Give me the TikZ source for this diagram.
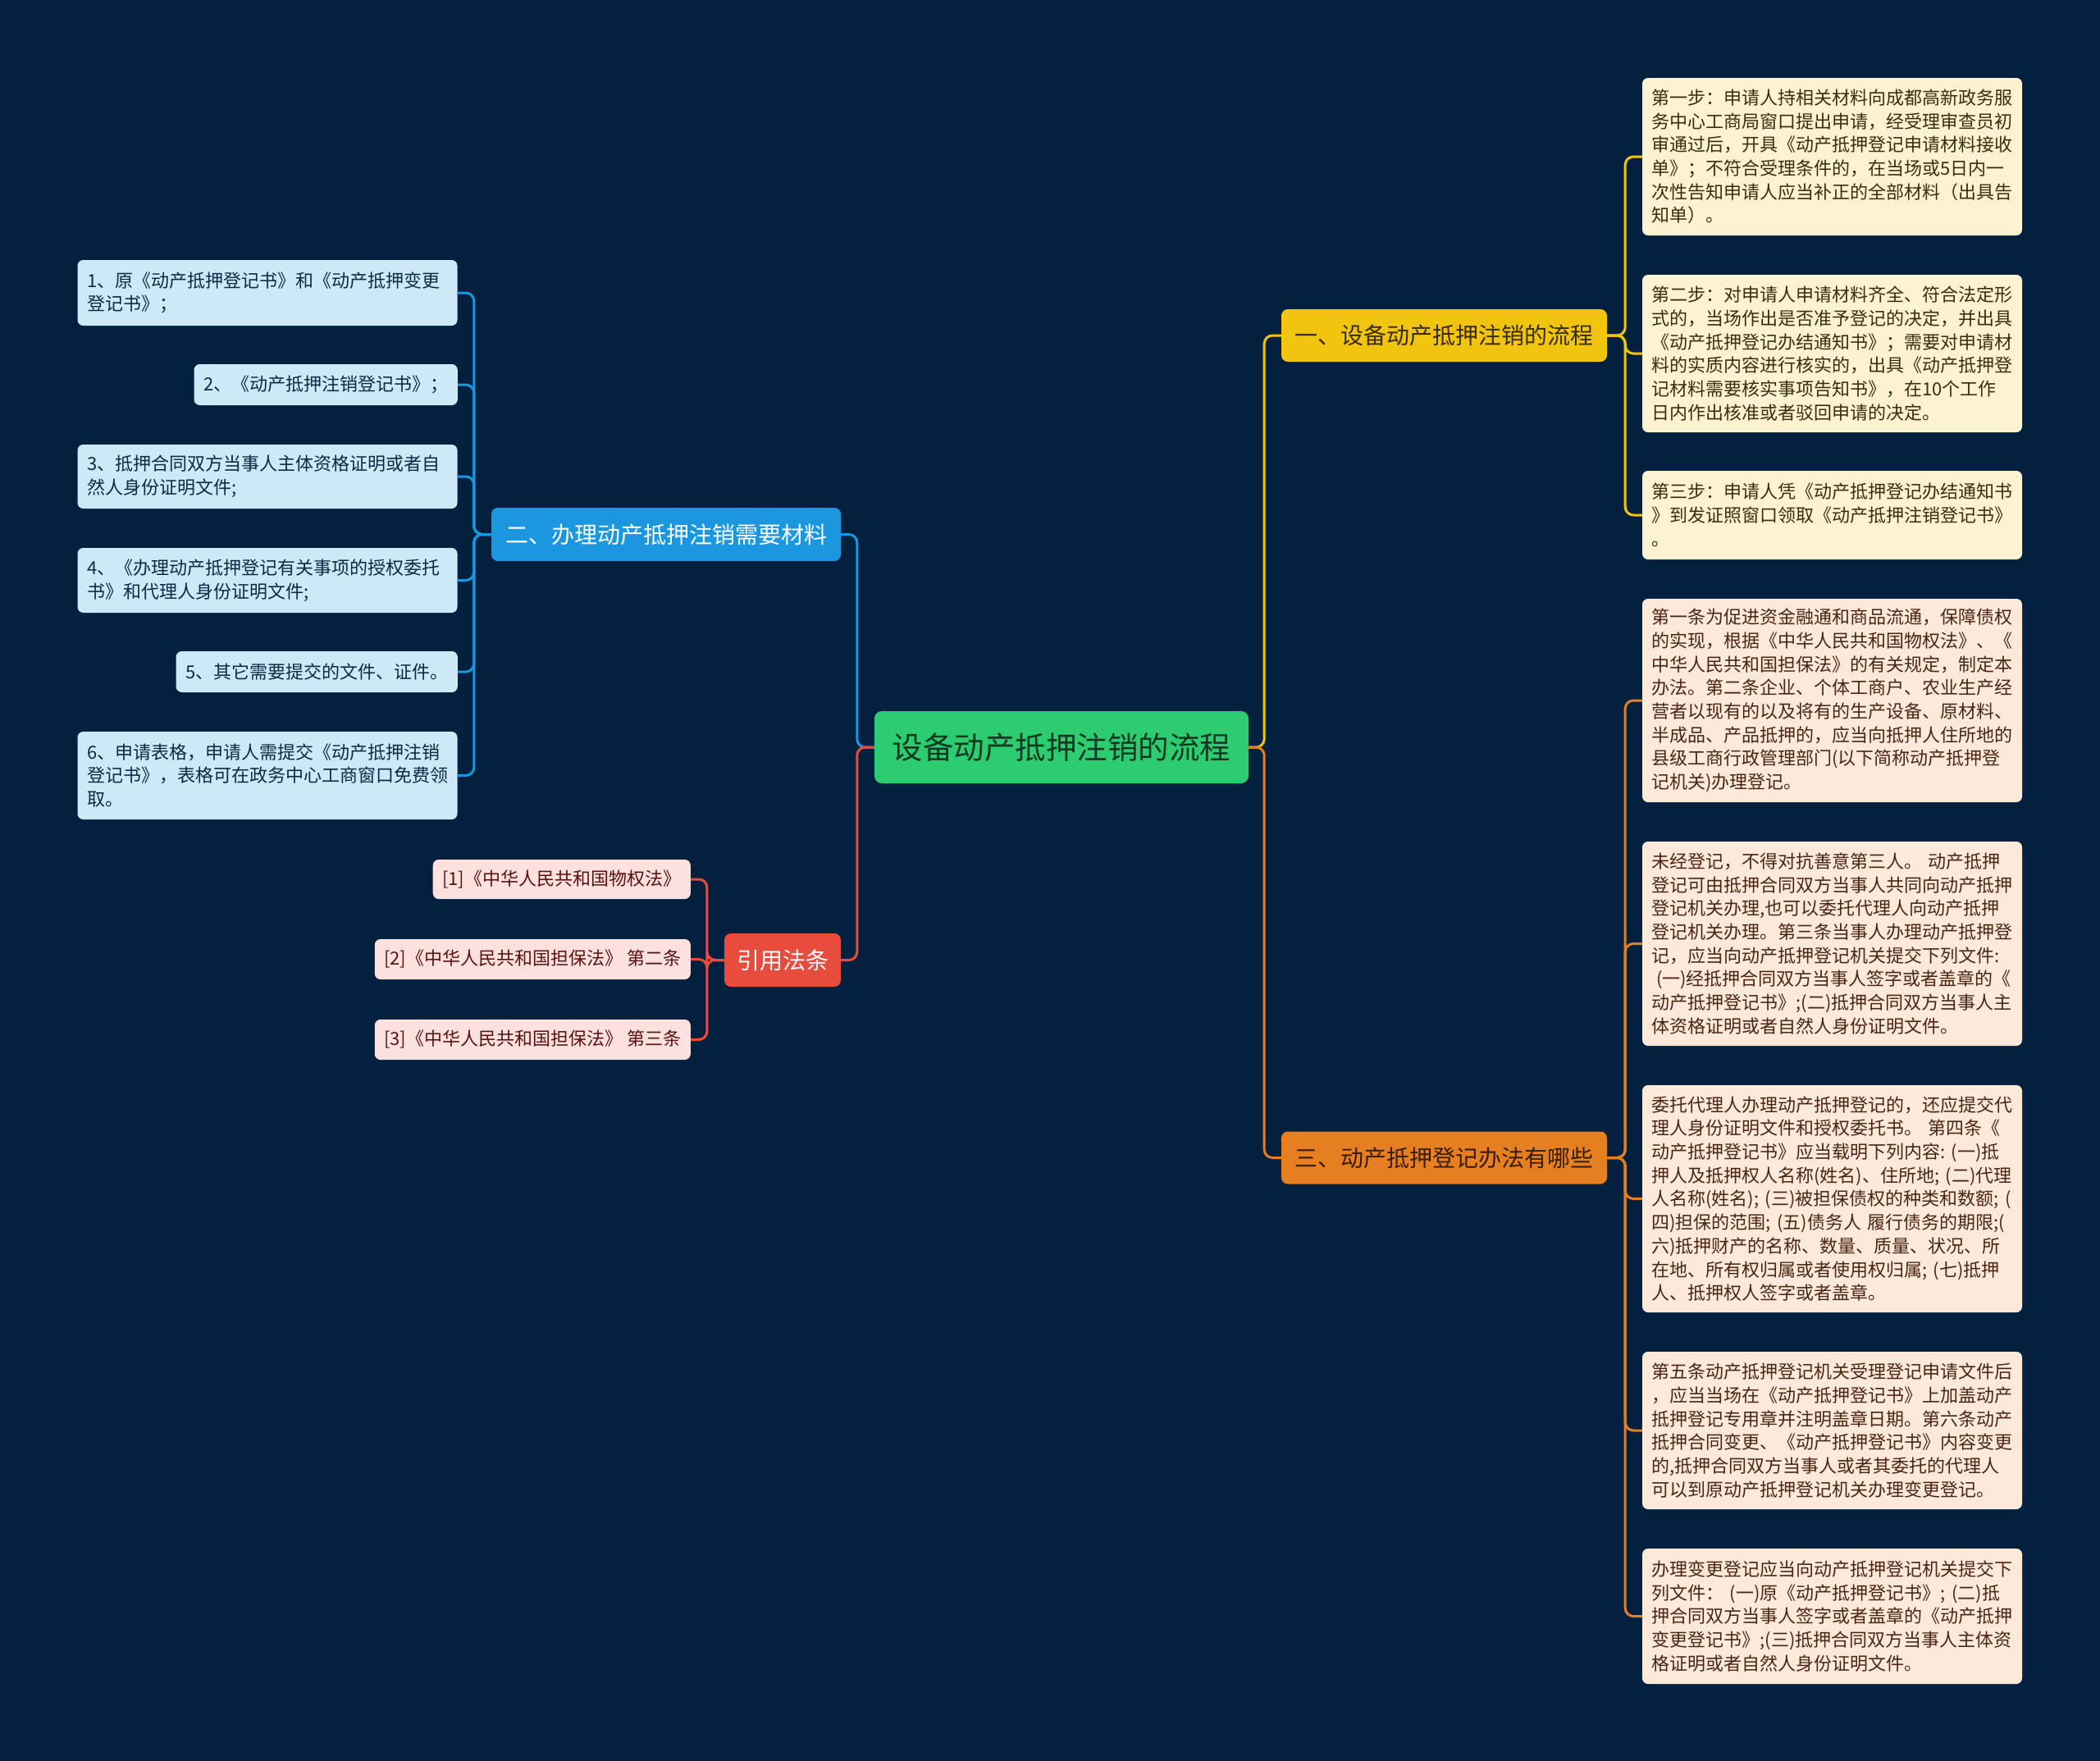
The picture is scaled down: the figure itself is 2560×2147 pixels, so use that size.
\documentclass[tikz,border=0pt]{standalone}
\usepackage{fontspec}
\setmainfont{Noto Sans CJK SC}
\definecolor{bg}{HTML}{03213F}
\definecolor{cgreen}{HTML}{2ECC71}
\definecolor{cgtext}{HTML}{0E3A22}
\definecolor{cyellow}{HTML}{F1C40F}
\definecolor{cytext}{HTML}{3A2C00}
\definecolor{corange}{HTML}{E67E22}
\definecolor{cotext}{HTML}{3A1D00}
\definecolor{cblue}{HTML}{1A97DF}
\definecolor{cred}{HTML}{E74C3C}
\definecolor{yfill}{HTML}{FDF3D3}
\definecolor{ytext}{HTML}{3B2F0A}
\definecolor{ofill}{HTML}{FCE9DA}
\definecolor{otext}{HTML}{4A2612}
\definecolor{bfill}{HTML}{CDE8F6}
\definecolor{btext}{HTML}{0B2A45}
\definecolor{rfill}{HTML}{FDE1DE}
\definecolor{rtext}{HTML}{5C1111}
\tikzset{
  leaf/.style={rounded corners=7pt, inner xsep=11.5pt, inner ysep=0pt, align=left,
    font=\fontsize{22}{28.7}\selectfont},
  wideleaf/.style={leaf, text width=440pt},
  yleaf/.style={wideleaf, fill=yfill, text=ytext},
  oleaf/.style={wideleaf, fill=ofill, text=otext},
  bleaf/.style={leaf, fill=bfill, text=btext},
  rleaf/.style={leaf, fill=rfill, text=rtext},
  branch/.style={rounded corners=8pt, inner sep=0pt, font=\fontsize{28}{34}\selectfont},
  conn/.style={line width=3pt, rounded corners=10pt},
}
\begin{document}
\begin{tikzpicture}[x=1pt,y=-1pt]
\fill[bg] (0,0) rectangle (2560,2147);
\useasboundingbox (0,0) rectangle (2560,2147);

% center
\node[rounded corners=9pt, fill=cgreen, text=cgtext, minimum width=456pt, minimum height=88pt,
  inner sep=0pt, font=\fontsize{37.5}{44}\selectfont] (root) at (1294,911) {设备动产抵押注销的流程};

% branches
\node[branch, fill=cyellow, text=cytext, minimum width=397pt, minimum height=64pt] (b1) at (1760.5,409) {一、设备动产抵押注销的流程};
\node[branch, fill=corange, text=cotext, minimum width=397pt, minimum height=64pt] (b3) at (1760.5,1411.5) {三、动产抵押登记办法有哪些};
\node[branch, fill=cblue, text=white, minimum width=426pt, minimum height=65pt] (b2) at (812,651.5) {二、办理动产抵押注销需要材料};
\node[branch, fill=cred, text=white, minimum width=142pt, minimum height=65pt] (b4) at (954,1170.5) {引用法条};

% right yellow leaves
\node[yleaf, minimum height=192pt] (y1) at (2233.5,191) {第一步：申请人持相关材料向成都高新政务服\\务中心工商局窗口提出申请，经受理审查员初\\审通过后，开具《动产抵押登记申请材料接收\\单》；不符合受理条件的，在当场或5日内一\\次性告知申请人应当补正的全部材料（出具告\\知单）。};
\node[yleaf, minimum height=192pt] (y2) at (2233.5,431) {第二步：对申请人申请材料齐全、符合法定形\\式的，当场作出是否准予登记的决定，并出具\\《动产抵押登记办结通知书》；需要对申请材\\料的实质内容进行核实的，出具《动产抵押登\\记材料需要核实事项告知书》，在10个工作\\日内作出核准或者驳回申请的决定。};
\node[yleaf, minimum height=108pt] (y3) at (2233.5,628) {第三步：申请人凭《动产抵押登记办结通知书\\》到发证照窗口领取《动产抵押注销登记书》\\。};

% right orange leaves
\node[oleaf, minimum height=248pt] (o1) at (2233.5,854) {第一条为促进资金融通和商品流通，保障债权\\的实现，根据《中华人民共和国物权法》、《\\中华人民共和国担保法》的有关规定，制定本\\办法。第二条企业、个体工商户、农业生产经\\营者以现有的以及将有的生产设备、原材料、\\半成品、产品抵押的，应当向抵押人住所地的\\县级工商行政管理部门(以下简称动产抵押登\\记机关)办理登记。};
\node[oleaf, minimum height=249pt] (o2) at (2233.5,1150.5) {未经登记，不得对抗善意第三人。~动产抵押\\登记可由抵押合同双方当事人共同向动产抵押\\登记机关办理,也可以委托代理人向动产抵押\\登记机关办理。第三条当事人办理动产抵押登\\记，应当向动产抵押登记机关提交下列文件:\\\hspace*{0.25em}(一)经抵押合同双方当事人签字或者盖章的《\\动产抵押登记书》;(二)抵押合同双方当事人主\\体资格证明或者自然人身份证明文件。};
\node[oleaf, minimum height=277pt] (o3) at (2233.5,1461.5) {委托代理人办理动产抵押登记的，还应提交代\\理人身份证明文件和授权委托书。~第四条《\\动产抵押登记书》应当载明下列内容:~(一)抵\\押人及抵押权人名称(姓名)、住所地;~(二)代理\\人名称(姓名);~(三)被担保债权的种类和数额;~(\\四)担保的范围;~(五)债务人~履行债务的期限;(\\六)抵押财产的名称、数量、质量、状况、所\\在地、所有权归属或者使用权归属;~(七)抵押\\人、抵押权人签字或者盖章。};
\node[oleaf, minimum height=192pt] (o4) at (2233.5,1744) {第五条动产抵押登记机关受理登记申请文件后\\，应当当场在《动产抵押登记书》上加盖动产\\抵押登记专用章并注明盖章日期。第六条动产\\抵押合同变更、《动产抵押登记书》内容变更\\的,抵押合同双方当事人或者其委托的代理人\\可以到原动产抵押登记机关办理变更登记。};
\node[oleaf, minimum height=165pt] (o5) at (2233.5,1970.5) {办理变更登记应当向动产抵押登记机关提交下\\列文件：~(一)原《动产抵押登记书》;~(二)抵\\押合同双方当事人签字或者盖章的《动产抵押\\变更登记书》;(三)抵押合同双方当事人主体资\\格证明或者自然人身份证明文件。};

% left blue leaves
\node[bleaf, text width=440pt, minimum height=80pt] (l1) at (326,357) {1、原《动产抵押登记书》和《动产抵押变更\\登记书》；};
\node[bleaf, minimum height=50pt, anchor=east] (l2) at (558,469) {2、《动产抵押注销登记书》；};
\node[bleaf, text width=440pt, minimum height=78pt] (l3) at (326,581) {3、抵押合同双方当事人主体资格证明或者自\\然人身份证明文件;};
\node[bleaf, text width=440pt, minimum height=79pt] (l4) at (326,707.5) {4、《办理动产抵押登记有关事项的授权委托\\书》和代理人身份证明文件;};
\node[bleaf, minimum height=50pt, anchor=east] (l5) at (558,819) {5、其它需要提交的文件、证件。};
\node[bleaf, text width=440pt, minimum height=107pt] (l6) at (326,945.5) {6、申请表格，申请人需提交《动产抵押注销\\登记书》，表格可在政务中心工商窗口免费领\\取。};

% law leaves
\node[rleaf, minimum height=48pt, anchor=east] (r1) at (842,1072) {[1]《中华人民共和国物权法》};
\node[rleaf, minimum height=49pt, anchor=east] (r2) at (842,1169.5) {[2]《中华人民共和国担保法》~第二条};
\node[rleaf, minimum height=49pt, anchor=east] (r3) at (842,1267.5) {[3]《中华人民共和国担保法》~第三条};

% connectors root
\draw[conn, cyellow] (root.east) -- ++(19,0) |- (b1.west);
\draw[conn, corange] (root.east) -- ++(19,0) |- (b3.west);
\draw[conn, cblue] (root.west) -- ++(-21,0) |- (b2.east);
\draw[conn, cred] (root.west) -- ++(-21,0) |- (b4.east);

% yellow branch
\foreach \n in {y1,y2,y3}{\draw[conn, cyellow] (b1.east) -- ++(22,0) |- (\n.west);}
% orange branch
\foreach \n in {o1,o2,o3,o4,o5}{\draw[conn, corange] (b3.east) -- ++(22,0) |- (\n.west);}
% blue branch
\foreach \n in {l1,l2,l3,l4,l5,l6}{\draw[conn, cblue] (b2.west) -- ++(-21,0) |- (\n.east);}
% red branch
\foreach \n in {r1,r2,r3}{\draw[conn, cred] (b4.west) -- ++(-21,0) |- (\n.east);}
\end{tikzpicture}
\end{document}
